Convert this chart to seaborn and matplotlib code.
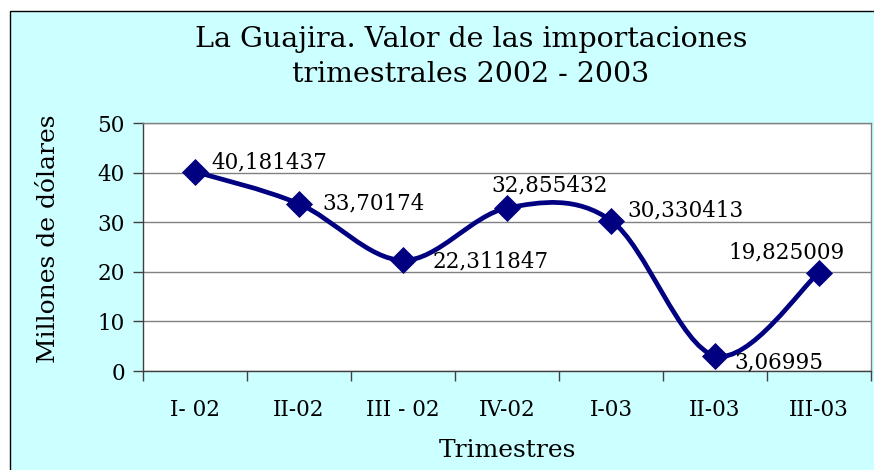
import numpy as np
import pandas as pd
import matplotlib.pyplot as plt
from matplotlib.path import Path
from matplotlib.patches import PathPatch, Rectangle
import seaborn as sns

trimestres = ['I- 02', 'II-02', 'III - 02', 'IV-02', 'I-03', 'II-03', 'III-03']
valores = [40.181437, 33.70174, 22.311847, 32.855432, 30.330413, 3.06995, 19.825009]
etiquetas = ['40,181437', '33,70174', '22,311847', '32,855432', '30,330413', '3,06995', '19,825009']
# desplazamiento de cada etiqueta (pt), texto alineado a la izquierda
desp = [(11.5, 7), (17, 0), (21, -1), (-11, 16), (11.5, 7), (14, -4.5), (-65, 14.5)]

df = pd.DataFrame({'x': range(len(trimestres)), 'valor': valores})

sns.set_style('white')
plt.rcParams['font.family'] = ['DejaVu Serif']
plt.rcParams['text.color'] = 'black'
plt.rcParams['xtick.color'] = 'black'
plt.rcParams['ytick.color'] = 'black'
plt.rcParams['axes.labelcolor'] = 'black'

fig = plt.figure(figsize=(8.74, 4.70), dpi=100, facecolor='white')
fig.patches.append(Rectangle((10 / 874, -0.05), 1.0, 1 - 11 / 470 + 0.05,
                             transform=fig.transFigure, facecolor='#CCFFFF',
                             edgecolor='black', linewidth=1.0, zorder=-10))
ax = fig.add_axes([143 / 874, 1 - 371 / 470, 728 / 874, 248 / 470])
ax.set_facecolor('white')

# linea suavizada (estilo Excel: bezier tipo Catmull-Rom)
xs = df['x'].to_numpy(float)
ys = df['valor'].to_numpy(float)
pts = np.column_stack([xs, ys])
ext = np.vstack([pts[0], pts, pts[-1]])
verts = [tuple(pts[0])]
codes = [Path.MOVETO]
for i in range(len(pts) - 1):
    p0, p1, p2, p3 = ext[i], ext[i + 1], ext[i + 2], ext[i + 3]
    c1 = p1 + (p2 - p0) / 6
    c2 = p2 - (p3 - p1) / 6
    verts += [tuple(c1), tuple(c2), tuple(p2)]
    codes += [Path.CURVE4] * 3
ax.add_patch(PathPatch(Path(verts, codes), facecolor='none', edgecolor='#000080',
                       linewidth=3.4, zorder=3, capstyle='round', joinstyle='round'))

sns.scatterplot(data=df, x='x', y='valor', marker='D', s=190, color='#000080',
                edgecolor='#000080', linewidth=0, zorder=4, ax=ax, clip_on=False)

for x, y, t, d in zip(xs, ys, etiquetas, desp):
    ax.annotate(t, (x, y), xytext=d, textcoords='offset points', ha='left', va='center',
                fontsize=15.5, color='black', zorder=5)

ax.set_xlim(-0.5, 6.5)
ax.set_ylim(0, 50)
ax.set_yticks([0, 10, 20, 30, 40, 50])
ax.set_xticks(range(len(trimestres)))
ax.set_xticklabels(trimestres)
ax.set_xticks(np.arange(-0.5, 7, 1), minor=True)
ax.tick_params(axis='x', which='major', length=0, pad=20, labelsize=15.5)
ax.tick_params(axis='x', which='minor', length=7, width=1, color='#404040', direction='out', bottom=True)
ax.tick_params(axis='y', length=7, width=1, color='#404040', direction='out', left=True, labelsize=15.5, pad=6)
ax.grid(axis='y', color='#808080', linewidth=1)
ax.set_axisbelow(True)
for s in ['top', 'right']:
    ax.spines[s].set_color('#808080')
for s in ['left', 'bottom']:
    ax.spines[s].set_color('#404040')
for s in ax.spines.values():
    s.set_linewidth(1)

ax.set_xlabel('Trimestres', fontsize=18, labelpad=13)
ax.set_ylabel('Millones de dólares', fontsize=18, labelpad=8)
ax.yaxis.set_label_coords(60 / 874, 1 - 239 / 470, transform=fig.transFigure)
fig.text(471 / 874, 1 - 57 / 470, 'La Guajira. Valor de las importaciones\ntrimestrales 2002 - 2003',
         ha='center', va='center', fontsize=20.5, linespacing=1.38)

plt.savefig('out.png', dpi=100, facecolor=fig.get_facecolor())
